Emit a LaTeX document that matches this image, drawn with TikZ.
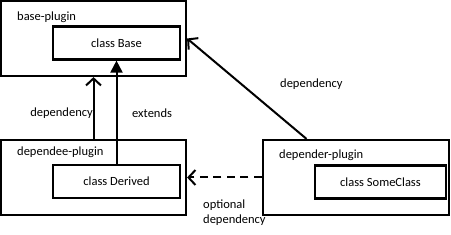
\documentclass[tikz,border=0pt]{standalone}
\usepackage{fontspec}
\setmainfont{Carlito}
\usetikzlibrary{arrows.meta,calc}
\tikzset{
  plugin/.style={draw, line width=2.2pt, minimum width=185pt, minimum height=75pt, inner sep=0pt},
  classbox/.style={draw, line width=2.2pt, minimum width=127pt, minimum height=33pt, inner sep=0pt},
  dep/.style={line width=2pt, -{Straight Barb[length=7pt,width=15pt,line width=2pt]}},
  ext/.style={line width=2pt, -{Triangle[length=12pt,width=12pt]}},
  lbl/.style={inner sep=0pt, font=\fontsize{12.5}{14.5}\selectfont}
}
\begin{document}
\begin{tikzpicture}[x=1pt,y=-1pt]
\useasboundingbox (0,0) rectangle (451,235);
% ====================
% Top: the base plugin with its class
\node[plugin] (base) at (93.5,38.5) {};
\node[lbl, anchor=west] (baselbl) at (17,17) {base-plugin};
\node[classbox, font=\fontsize{12.5}{14.5}\selectfont] (classbase) at (116.5,43) {class Base};

% ====================
% Bottom left: the dependee plugin with the derived class
\node[plugin] (dependee) at (93.5,177.5) {};
\node[lbl, anchor=west] (dependeelbl) at (17,152) {dependee-plugin};
\node[classbox, font=\fontsize{12.5}{14.5}\selectfont] (classderived) at (116.5,181.5) {class Derived};

% ====================
% Bottom right: the depender plugin with its class
\node[plugin, minimum width=186pt] (depender) at (356,177.5) {};
\node[lbl, anchor=west] (dependerlbl) at (279,155) {depender-plugin};
\node[classbox, minimum width=131pt, font=\fontsize{12.5}{14.5}\selectfont] (classsome) at (380.5,182) {class SomeClass};

% ====================
% Connectors between the boxes
\draw[dep] (dependee.north) -- (dependee.north |- base.south);
\draw[ext] (classderived.north) -- (classbase.south);
\draw[dep, dash pattern=on 8pt off 5.5pt] (depender.west) -- (dependee.east);
\coordinate (dependerout) at ($(depender.north west)!0.237!(depender.north east)$);
\draw[dep] (dependerout) -- (base.east);

% Labels of the connectors
\node[lbl, anchor=east] (deplbl) at (93,113) {dependency};
\node[lbl, anchor=west] (extlbl) at (132,113) {extends};
\node[lbl, anchor=west] (dep2lbl) at (280,84) {dependency};
\node[lbl, anchor=north west, align=left] (optlbl) at (203,200) {optional\\dependency};
\end{tikzpicture}
\end{document}
